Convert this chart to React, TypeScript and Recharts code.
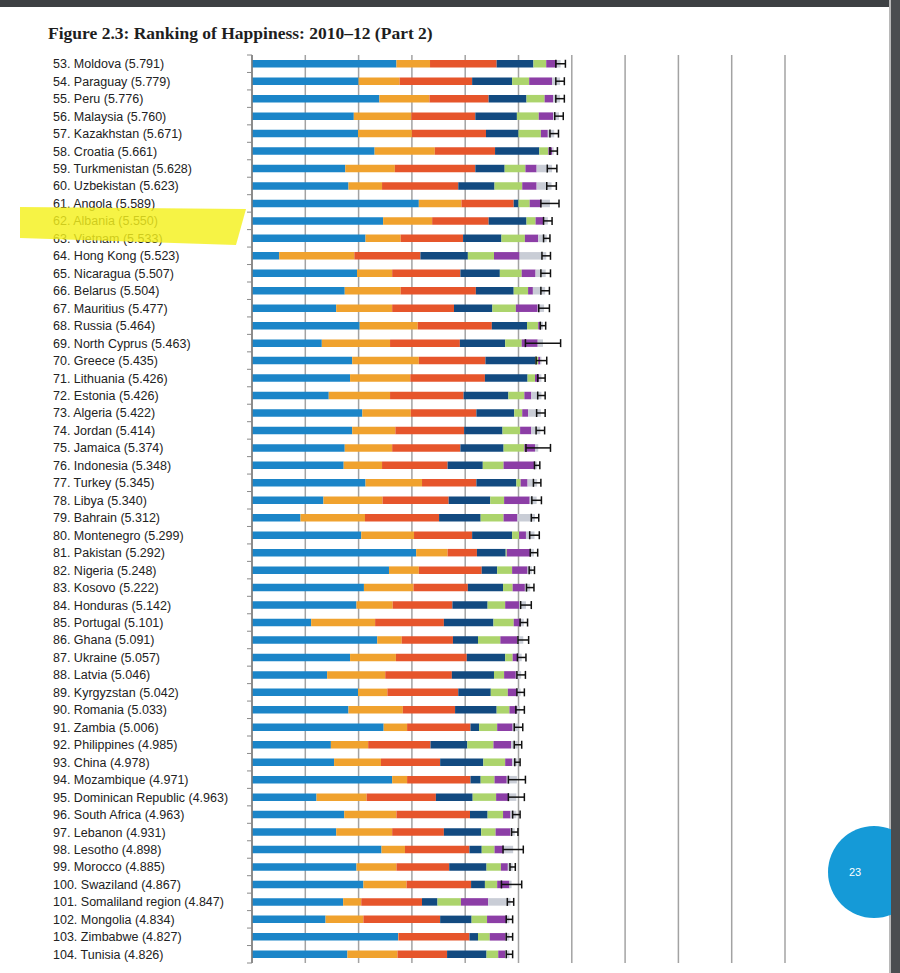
import { BarChart, Bar, XAxis, YAxis, CartesianGrid, ErrorBar } from "recharts"

const ranks = [53, 54, 55, 56, 57, 58, 59, 60, 61, 62, 63, 64, 65, 66, 67, 68, 69, 70, 71, 72, 73, 74, 75, 76, 77, 78, 79, 80, 81, 82, 83, 84, 85, 86, 87, 88, 89, 90, 91, 92, 93, 94, 95, 96, 97, 98, 99, 100, 101, 102, 103, 104]
const countries = ["Moldova", "Paraguay", "Peru", "Malaysia", "Kazakhstan", "Croatia", "Turkmenistan", "Uzbekistan", "Angola", "Albania", "Vietnam", "Hong Kong", "Nicaragua", "Belarus", "Mauritius", "Russia", "North Cyprus", "Greece", "Lithuania", "Estonia", "Algeria", "Jordan", "Jamaica", "Indonesia", "Turkey", "Libya", "Bahrain", "Montenegro", "Pakistan", "Nigeria", "Kosovo", "Honduras", "Portugal", "Ghana", "Ukraine", "Latvia", "Kyrgyzstan", "Romania", "Zambia", "Philippines", "China", "Mozambique", "Dominican Republic", "South Africa", "Lebanon", "Lesotho", "Morocco", "Swaziland", "Somaliland region", "Mongolia", "Zimbabwe", "Tunisia"]
const scores = ["5.791", "5.779", "5.776", "5.760", "5.671", "5.661", "5.628", "5.623", "5.589", "5.550", "5.533", "5.523", "5.507", "5.504", "5.477", "5.464", "5.463", "5.435", "5.426", "5.426", "5.422", "5.414", "5.374", "5.348", "5.345", "5.340", "5.312", "5.299", "5.292", "5.248", "5.222", "5.142", "5.101", "5.091", "5.057", "5.046", "5.042", "5.033", "5.006", "4.985", "4.978", "4.971", "4.963", "4.963", "4.931", "4.898", "4.885", "4.867", "4.847", "4.834", "4.827", "4.826"]

// explained-by components
const dystopia = [2.71, 2.0, 2.39, 1.91, 1.99, 2.3, 1.75, 1.81, 3.13, 2.46, 2.13, 0.51, 1.97, 1.74, 1.58, 2.02, 1.31, 1.88, 1.84, 1.44, 2.07, 1.88, 1.74, 1.72, 2.13, 1.34, 0.91, 2.05, 3.08, 2.57, 2.1, 1.96, 1.11, 2.35, 1.84, 1.41, 1.99, 1.81, 2.47, 1.48, 1.54, 2.63, 1.21, 1.73, 1.58, 2.43, 1.96, 2.09, 1.71, 1.38, 2.74, 1.79]
const gdp = [0.63, 0.77, 0.94, 1.08, 1.01, 1.13, 0.93, 0.63, 0.8, 0.92, 0.66, 1.41, 0.66, 1.05, 1.05, 1.09, 1.28, 1.25, 1.13, 1.15, 0.91, 0.81, 0.89, 0.72, 1.06, 1.11, 1.21, 0.99, 0.59, 0.56, 0.93, 0.68, 1.2, 0.46, 0.86, 1.09, 0.55, 1.02, 0.44, 0.7, 0.88, 0.28, 0.94, 0.98, 1.05, 0.44, 0.75, 0.81, 0.34, 0.71, 0.01, 0.94]
const social = [1.25, 1.36, 1.11, 1.2, 1.39, 1.13, 1.51, 1.43, 0.98, 1.06, 1.17, 1.24, 1.28, 1.41, 1.16, 1.39, 1.31, 1.25, 1.4, 1.38, 1.23, 1.29, 1.28, 1.23, 1.02, 1.24, 1.39, 1.09, 0.55, 1.18, 1.02, 1.12, 1.29, 0.96, 1.33, 1.25, 1.33, 0.98, 1.19, 1.17, 1.11, 1.19, 1.3, 1.38, 0.97, 1.21, 0.99, 1.21, 1.14, 1.44, 1.33, 0.93]
const health = [0.69, 0.75, 0.71, 0.78, 0.61, 0.83, 0.55, 0.68, 0.09, 0.71, 0.72, 0.89, 0.74, 0.71, 0.72, 0.66, 0.85, 0.94, 0.8, 0.84, 0.71, 0.72, 0.81, 0.66, 0.75, 0.78, 0.78, 0.75, 0.54, 0.29, 0.66, 0.66, 0.93, 0.47, 0.72, 0.79, 0.61, 0.78, 0.16, 0.69, 0.81, 0.19, 0.69, 0.33, 0.7, 0.23, 0.7, 0.26, 0.29, 0.59, 0.16, 0.74]
const freedom = [0.24, 0.32, 0.34, 0.41, 0.42, 0.17, 0.39, 0.52, 0.21, 0.17, 0.44, 0.49, 0.41, 0.27, 0.44, 0.21, 0.31, 0.05, 0.14, 0.3, 0.15, 0.33, 0.39, 0.39, 0.08, 0.26, 0.43, 0.13, 0.02, 0.28, 0.18, 0.33, 0.38, 0.42, 0.14, 0.19, 0.32, 0.24, 0.34, 0.49, 0.41, 0.26, 0.44, 0.29, 0.27, 0.24, 0.27, 0.23, 0.44, 0.29, 0.22, 0.22]
const generosity = [0.2, 0.43, 0.16, 0.27, 0.13, 0.07, 0.21, 0.27, 0.22, 0.14, 0.25, 0.48, 0.26, 0.09, 0.41, 0.05, 0.3, 0.04, 0.08, 0.13, 0.11, 0.21, 0.2, 0.59, 0.13, 0.48, 0.26, 0.13, 0.44, 0.29, 0.23, 0.26, 0.13, 0.32, 0.11, 0.22, 0.17, 0.14, 0.29, 0.33, 0.13, 0.23, 0.23, 0.14, 0.28, 0.17, 0.13, 0.23, 0.51, 0.36, 0.3, 0.13]
const corruption = [0.07, 0.15, 0.13, 0.11, 0.12, 0.03, 0.29, 0.28, 0.16, 0.09, 0.16, 0.5, 0.19, 0.23, 0.12, 0.04, 0.1, 0.02, 0.04, 0.19, 0.24, 0.17, 0.06, 0.04, 0.18, 0.13, 0.33, 0.16, 0.07, 0.08, 0.1, 0.13, 0.06, 0.11, 0.06, 0.1, 0.07, 0.06, 0.11, 0.13, 0.1, 0.19, 0.15, 0.11, 0.08, 0.18, 0.09, 0.04, 0.42, 0.06, 0.07, 0.08]
const ci95 = [0.09, 0.08, 0.08, 0.08, 0.08, 0.07, 0.09, 0.09, 0.17, 0.08, 0.06, 0.08, 0.09, 0.08, 0.1, 0.05, 0.33, 0.1, 0.07, 0.07, 0.08, 0.08, 0.23, 0.05, 0.07, 0.09, 0.07, 0.09, 0.07, 0.05, 0.07, 0.1, 0.07, 0.1, 0.08, 0.08, 0.07, 0.08, 0.08, 0.07, 0.05, 0.16, 0.15, 0.07, 0.06, 0.19, 0.05, 0.19, 0.06, 0.06, 0.06, 0.06]

const xTicks = [0, 1, 2, 3, 4, 5, 6, 7, 8, 9, 10]

const rows = countries.map((c, i) => ({
    label: `${ranks[i]}. ${c} (${scores[i]})`,
    dystopia: dystopia[i],
    gdp: gdp[i],
    social: social[i],
    health: health[i],
    freedom: freedom[i],
    generosity: generosity[i],
    corruption: corruption[i],
    ci: ci95[i],
}))

const TOP = 55
const BOTTOM = 963
const BAND = (BOTTOM - TOP) / rows.length

function CountryTick({ y, payload, index }: any) {
    return (
        <g>
            <line x1={247} x2={252} y1={y - BAND / 2} y2={y - BAND / 2} stroke="#8a8a8a" strokeWidth={1} />
            {index === rows.length - 1 && (
                <line x1={247} x2={252} y1={y + BAND / 2} y2={y + BAND / 2} stroke="#8a8a8a" strokeWidth={1} />
            )}
            <text x={53} y={y} dy={4.5} fontSize={12.5} fill="#222" fontFamily="'Liberation Sans', Arial, sans-serif" textAnchor="start">
                {payload.value}
            </text>
        </g>
    )
}

export default function App() {
    return (
        <div style={{ position: "absolute", left: 0, top: 0, width: 900, height: 973, background: "#fff", overflow: "hidden" }}>
            <div style={{ position: "absolute", left: 0, top: 0, width: 900, height: 7, background: "#3d4043" }} />
            <div style={{ position: "absolute", left: 889, top: 0, width: 1.5, height: 973, background: "#b8b8b8" }} />
            <div style={{ position: "absolute", left: 891, top: 0, width: 9, height: 973, background: "#4a4d50" }} />
            <div
                style={{
                    position: "absolute",
                    left: 48,
                    top: 23,
                    fontFamily: "'Liberation Serif', 'DejaVu Serif', serif",
                    fontWeight: 700,
                    fontSize: 17.5,
                    color: "#1e1e1e",
                    whiteSpace: "nowrap",
                }}
            >
                Figure 2.3: Ranking of Happiness: 2010–12 (Part 2)
            </div>
            <div style={{ position: "absolute", left: 0, top: 0 }}>
                <BarChart
                    width={900}
                    height={973}
                    data={rows}
                    layout="vertical"
                    margin={{ top: TOP, right: 115, bottom: 973 - BOTTOM, left: 0 }}
                    barSize={7.5}
                >
                    <CartesianGrid horizontal={false} stroke="#a3a3a3" strokeWidth={1.5} />
                    <XAxis type="number" domain={[0, 10]} ticks={xTicks} allowDataOverflow hide />
                    <YAxis
                        type="category"
                        dataKey="label"
                        width={252}
                        interval={0}
                        tickLine={false}
                        axisLine={{ stroke: "#7d7d7d", strokeWidth: 1.5 }}
                        tick={CountryTick}
                    />
                    <Bar dataKey="dystopia" stackId="a" fill="#1b85c8" isAnimationActive={false} />
                    <Bar dataKey="gdp" stackId="a" fill="#f0a22e" isAnimationActive={false} />
                    <Bar dataKey="social" stackId="a" fill="#e6552b" isAnimationActive={false} />
                    <Bar dataKey="health" stackId="a" fill="#124a80" isAnimationActive={false} />
                    <Bar dataKey="freedom" stackId="a" fill="#acd46c" isAnimationActive={false} />
                    <Bar dataKey="generosity" stackId="a" fill="#8c3ea6" isAnimationActive={false} />
                    <Bar dataKey="corruption" stackId="a" fill="#c9cdd6" isAnimationActive={false}>
                        <ErrorBar dataKey="ci" direction="x" width={4} stroke="#111" strokeWidth={1.5} isAnimationActive={false} />
                    </Bar>
                </BarChart>
            </div>
            <svg style={{ position: "absolute", left: 0, top: 0 }} width={900} height={973}>
                <polygon points="20,207 246,209 236,245 20,238" fill="#f4f01c" opacity={0.82} />
                <circle cx={874} cy={872} r={46} fill="#159ad7" />
                <rect x={891} y={820} width={9} height={110} fill="#4a4d50" />
                <text x={855} y={876} fontSize={11} fill="#fff" textAnchor="middle" fontFamily="'Liberation Sans', Arial, sans-serif">
                    23
                </text>
            </svg>
        </div>
    )
}
